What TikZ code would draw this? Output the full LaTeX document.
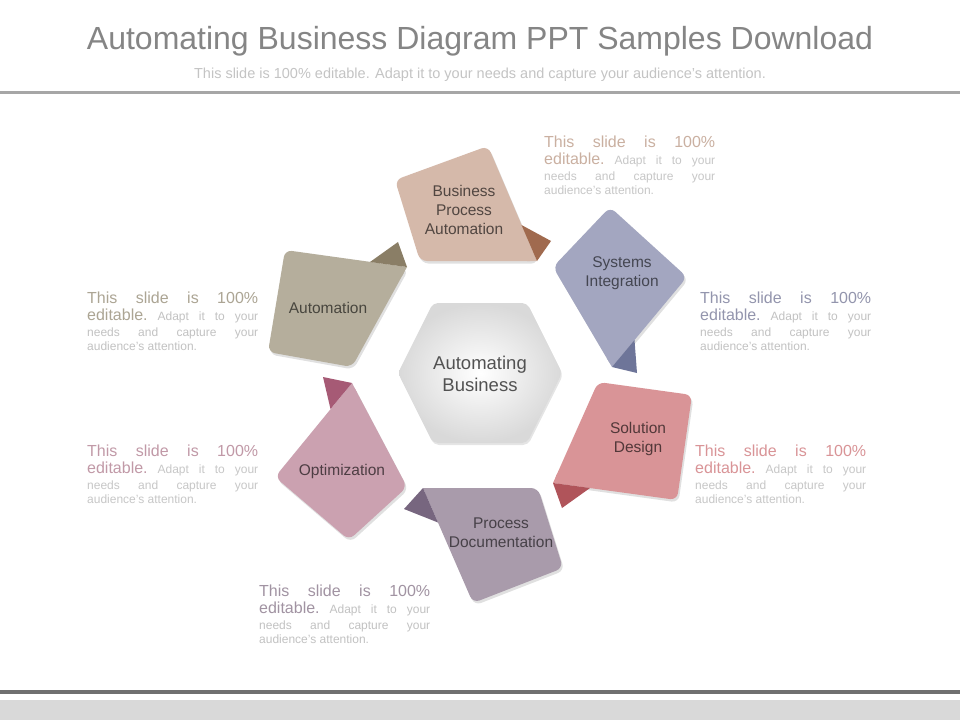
\documentclass[tikz,border=0pt]{standalone}
\usepackage{fontspec}
\setmainfont{Liberation Sans}
\usetikzlibrary{calc,shadows}
\definecolor{bpacol}{HTML}{D5B9AA}\definecolor{bpafold}{HTML}{A06A4E}
\definecolor{syscol}{HTML}{A3A6C0}\definecolor{sysfold}{HTML}{6E7599}
\definecolor{solcol}{HTML}{D99497}\definecolor{solfold}{HTML}{B0545A}
\definecolor{pdoccol}{HTML}{A99BAB}\definecolor{pdocfold}{HTML}{77667F}
\definecolor{optcol}{HTML}{CBA1B0}\definecolor{optfold}{HTML}{A65A75}
\definecolor{autocol}{HTML}{B5AE9C}\definecolor{autofold}{HTML}{8A7E66}
\definecolor{titlegray}{HTML}{858585}
\definecolor{subgray}{HTML}{C4C4C4}
\newcommand\descblock[5]{%
  \node[descbig, text=#4] (#1-1) at (#2,#3) {\makebox[171pt][l]{This\hfill slide\hfill is\hfill 100\%}};
  \node[descbig, text=#4] (#1-2) at (#2,#3+17) {\makebox[171pt][l]{editable.\hfill{\fontsize{12}{14}\selectfont\color{#5}Adapt\hfill it\hfill to\hfill your}}};
  \node[descsmall, text=#5] (#1-3) at (#2,#3+33) {\makebox[171pt][l]{needs\hfill and\hfill capture\hfill your}};
  \node[descsmall, text=#5] (#1-4) at (#2,#3+47) {audience's attention.};
}
\begin{document}
\begin{tikzpicture}[x=1pt,y=-1pt,
  paper/.style={rounded corners=7pt, drop shadow={shadow xshift=1.5pt, shadow yshift=-2.5pt, opacity=0.12, fill=black}},
  lbl/.style={align=center, inner sep=0pt, font=\fontsize{15.5}{19}\selectfont},
  descbig/.style={anchor=base west, inner sep=0pt, font=\fontsize{16}{18}\selectfont},
  descsmall/.style={anchor=base west, inner sep=0pt, font=\fontsize{12}{14}\selectfont}]
\useasboundingbox (0,0) rectangle (960,720);
\fill[white] (0,0) rectangle (960,720);
% header
\node[text=titlegray, font=\fontsize{32}{36}\selectfont, anchor=base] (title) at (480,49) {Automating Business Diagram PPT Samples Download};
\node[text=subgray, font=\fontsize{14.5}{16}\selectfont, anchor=base] (subtitle) at (480,78) {This slide is 100\% editable. Adapt it to your needs and capture your audience's attention.};
\fill[black!35] (0,90.5) rectangle (960,93.5);
% footer
\fill[black!56] (0,689.5) rectangle (960,694);
\fill[black!15] (0,700) rectangle (960,720);
% hub
\coordinate (h1) at (433,303); \coordinate (h2) at (527,303); \coordinate (h3) at (562,373);
\coordinate (h4) at (527,443); \coordinate (h5) at (433,443); \coordinate (h6) at (398,373);
\shade[inner color=white, outer color=black!15, rounded corners=5pt, drop shadow={shadow xshift=1pt, shadow yshift=-2pt, opacity=0.1, fill=black}]
  (h1) -- (h2) -- (h3) -- (h4) -- (h5) -- (h6) -- cycle;
\node[text=black!68, align=center, font=\fontsize{18.5}{22}\selectfont] (hub) at (480,374) {Automating\\Business};
% Business Process Automation
\coordinate (bpa-1) at (395,180); \coordinate (bpa-2) at (488,146);
\coordinate (bpa-t) at (537,261); \coordinate (bpa-4) at (420,261);
\coordinate (bpa-f) at (521.5,225); \coordinate (bpa-g) at (551,241);
\fill[bpacol, paper] (bpa-1) -- (bpa-2) -- (bpa-t) -- (bpa-4) -- cycle;
\fill[bpacol] (bpa-t) -- ($(bpa-t)!10pt!(bpa-2)$) -- ($(bpa-t)!10pt!(bpa-4)$) -- cycle;
\fill[bpafold] (bpa-f) -- (bpa-g) -- (bpa-t) -- cycle;
\node[lbl, text=bpacol!38!black] (bpa) at (464,210) {Business\\Process\\Automation};
% Systems Integration
\coordinate (sys-1) at (553,267); \coordinate (sys-2) at (610,207);
\coordinate (sys-3) at (687,277); \coordinate (sys-t) at (612,367);
\coordinate (sys-f) at (634.5,340); \coordinate (sys-g) at (637,373);
\fill[syscol, paper] (sys-1) -- (sys-2) -- (sys-3) -- (sys-t) -- cycle;
\fill[syscol] (sys-t) -- ($(sys-t)!10pt!(sys-3)$) -- ($(sys-t)!10pt!(sys-1)$) -- cycle;
\fill[sysfold] (sys-f) -- (sys-g) -- (sys-t) -- cycle;
\node[lbl, text=syscol!42!black] (sys) at (622,273.5) {Systems\\Integration};
% Solution Design
\coordinate (sol-1) at (598,382); \coordinate (sol-2) at (692,395);
\coordinate (sol-3) at (677,500); \coordinate (sol-t) at (553,483);
\coordinate (sol-f) at (590,488); \coordinate (sol-g) at (562,508);
\fill[solcol, paper] (sol-1) -- (sol-2) -- (sol-3) -- (sol-t) -- cycle;
\fill[solcol] (sol-t) -- ($(sol-t)!10pt!(sol-1)$) -- ($(sol-t)!10pt!(sol-3)$) -- cycle;
\fill[solfold] (sol-f) -- (sol-g) -- (sol-t) -- cycle;
\node[lbl, text=solcol!38!black] (sol) at (638,438.5) {Solution\\Design};
% Process Documentation
\coordinate (pdoc-t) at (423,488); \coordinate (pdoc-2) at (538,488);
\coordinate (pdoc-3) at (563,568); \coordinate (pdoc-4) at (473,603);
\coordinate (pdoc-f) at (438,522.5); \coordinate (pdoc-g) at (404,509);
\fill[pdoccol, paper] (pdoc-t) -- (pdoc-2) -- (pdoc-3) -- (pdoc-4) -- cycle;
\fill[pdoccol] (pdoc-t) -- ($(pdoc-t)!10pt!(pdoc-2)$) -- ($(pdoc-t)!10pt!(pdoc-4)$) -- cycle;
\fill[pdocfold] (pdoc-f) -- (pdoc-g) -- (pdoc-t) -- cycle;
\node[lbl, text=pdoccol!42!black] (pdoc) at (501,532.5) {Process\\Documentation};
% Optimization
\coordinate (opt-t) at (352,383); \coordinate (opt-2) at (407,487);
\coordinate (opt-3) at (349,540); \coordinate (opt-4) at (275,477);
\coordinate (opt-f) at (330.5,409); \coordinate (opt-g) at (323,377);
\fill[optcol, paper] (opt-t) -- (opt-2) -- (opt-3) -- (opt-4) -- cycle;
\fill[optcol] (opt-t) -- ($(opt-t)!10pt!(opt-2)$) -- ($(opt-t)!10pt!(opt-4)$) -- cycle;
\fill[optfold] (opt-f) -- (opt-g) -- (opt-t) -- cycle;
\node[lbl, text=optcol!38!black] (opt) at (342,471) {Optimization};
% Automation
\coordinate (auto-1) at (285,250); \coordinate (auto-t) at (407,267);
\coordinate (auto-3) at (352,367); \coordinate (auto-4) at (268,352);
\coordinate (auto-f) at (370,262); \coordinate (auto-g) at (398,242);
\fill[autocol, paper] (auto-1) -- (auto-t) -- (auto-3) -- (auto-4) -- cycle;
\fill[autocol] (auto-t) -- ($(auto-t)!10pt!(auto-1)$) -- ($(auto-t)!10pt!(auto-3)$) -- cycle;
\fill[autofold] (auto-f) -- (auto-g) -- (auto-t) -- cycle;
\node[lbl, text=autocol!40!black] (auto) at (328,308) {Automation};
% descriptions
\descblock{dbpa}{544}{147}{bpacol!95!black}{black!22}
\descblock{dsys}{700}{303}{syscol!90!black}{black!24}
\descblock{dsol}{695}{456}{solcol}{black!22}
\descblock{dpdoc}{259}{596}{pdoccol!95!black}{black!24}
\descblock{dopt}{87}{456}{optcol!95!black}{black!22}
\descblock{dauto}{87}{303}{autocol!95!black}{black!24}
\end{tikzpicture}
\end{document}
